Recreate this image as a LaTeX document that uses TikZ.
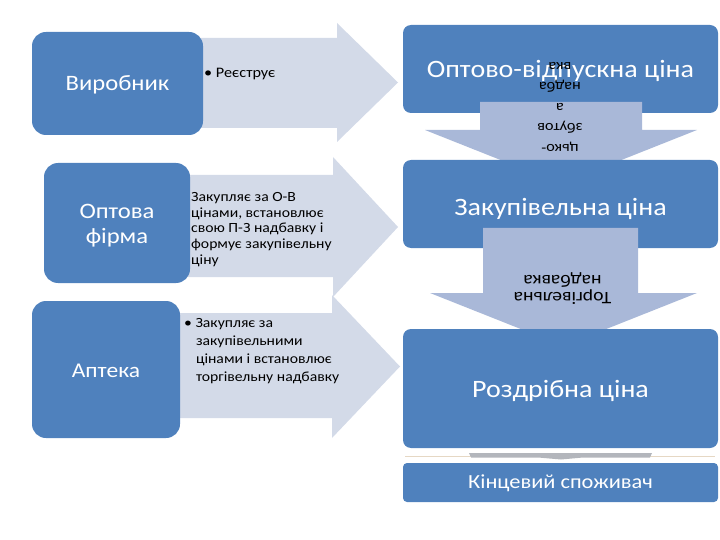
\documentclass[tikz,border=0pt]{standalone}
\usepackage{fontspec}
\setmainfont[FakeStretch=1.12]{Carlito}
\usetikzlibrary{calc}
\definecolor{boxblue}{HTML}{4F81BD}
\definecolor{paleblue}{HTML}{D3DAE8}
\definecolor{dropblue}{HTML}{A9B8D8}
\definecolor{bargray}{HTML}{B3B6BC}
\definecolor{seamline}{HTML}{E6D8C4}
\def\fatarrow[#1](#2:#3:#4)(#5:#6:#7:#8){\fill[#1] (#2,#3) -- (#5,#3) -- (#5,#6) -- (#8,{(#6+#7)/2}) -- (#5,#7) -- (#5,#4) -- (#2,#4) -- cycle;}
\def\droparrow[#1](#2:#3:#4)(#5:#6:#7:#8){\fill[#1] (#2,#4) -- (#3,#4) -- (#3,#5) -- (#7,#5) -- ({(#6+#7)/2},#8) -- (#6,#5) -- (#2,#5) -- cycle;}
\def\skipdot{\phantom{•}\hspace{4pt}}
\tikzset{
	stage/.style={fill=boxblue, rounded corners=14pt, text=white, inner sep=0pt, align=center, text depth=0pt},
	price/.style={fill=boxblue, rounded corners=8pt, text=white, inner sep=0pt, minimum width=315pt, align=center, text depth=0pt},
	note/.style={inner sep=0pt, anchor=north west, align=left, text=black},
	upside/.style={inner sep=0pt, rotate=180, align=center, text=black}
}
\begin{document}
\begin{tikzpicture}[x=1pt,y=-1pt]
				\useasboundingbox (0,0) rectangle (720,540);
				
				\fatarrow[paleblue](190:38:128)(337:23:142:398)
				\fatarrow[paleblue](180:175:277)(333:157:297:398)
				\fatarrow[paleblue](170:313:418)(332:295:438:400)
				
				\node[stage, minimum width=171pt, minimum height=103pt, text height=15pt, font=\fontsize{22}{25}\selectfont] (maker) at (117.5,83.5) {Виробник};
				\node[stage, minimum width=146pt, minimum height=120pt, text height=40.6pt, font=\fontsize{22}{25}\selectfont] (wholesaler) at (117,223) {\begin{tabular}[b]{@{}c@{}}Оптова\\фірма\end{tabular}};
				\node[stage, minimum width=148pt, minimum height=137pt, text height=15pt, font=\fontsize{21}{24}\selectfont] (pharmacy) at (106,369.5) {Аптека};
				
				\node[note, font=\fontsize{14.5}{18}\selectfont] (regnote) at (204,68) {• Реєструє};
				\node[note, font=\fontsize{14}{15.8}\selectfont] (buynote) at (191,192) {Закупляє за О-В\\цінами, встановлює\\свою П-З надбавку і\\формує закупівельну\\ціну};
				\node[note, font=\fontsize{14}{18}\selectfont] (sellnote) at (184,318) {• Закупляє за\\\skipdot закупівельними\\\skipdot цінами і встановлює\\\skipdot торгівельну надбавку};
				
				\node[price, minimum height=88pt, text height=18pt, font=\fontsize{25}{28}\selectfont] (factory) at (560.5,69) {Оптово-відпускна ціна};
				\droparrow[dropblue](480:642:102)(130:425:697:184)
				\node[upside, font=\fontsize{14.5}{20.5}\selectfont] (supplymargin) at (560,106.5) {цько-\\збутов\\а\\надба\\вка};
				
				\node[price, minimum height=88pt, text height=22pt, font=\fontsize{25}{28}\selectfont] (purchase) at (560.5,204) {Закупівельна ціна};
				\droparrow[dropblue](483:638:228)(293:430:697:346)
				\node[upside, font=\fontsize{17.5}{17.5}\selectfont] (trademargin) at (562.5,288.5) {Торгівельна\\надбавка};
				
				\node[price, minimum height=119pt, text height=17pt, font=\fontsize{25}{28}\selectfont] (retail) at (560.5,388.5) {Роздрібна ціна};
				\draw[seamline, line width=0.8pt] (405,456) -- (715,456);
				\fill[bargray] (469,453) -- (652,453) -- (650,457.5) -- (583,457.5) -- (561,459.5) -- (538,457.5) -- (471,457.5) -- cycle;
				\node[price, rounded corners=4pt, minimum height=39pt, text height=11pt, font=\fontsize{20}{22}\selectfont] (consumer) at (560.5,482.5) {Кінцевий споживач};
\end{tikzpicture}
\end{document}
